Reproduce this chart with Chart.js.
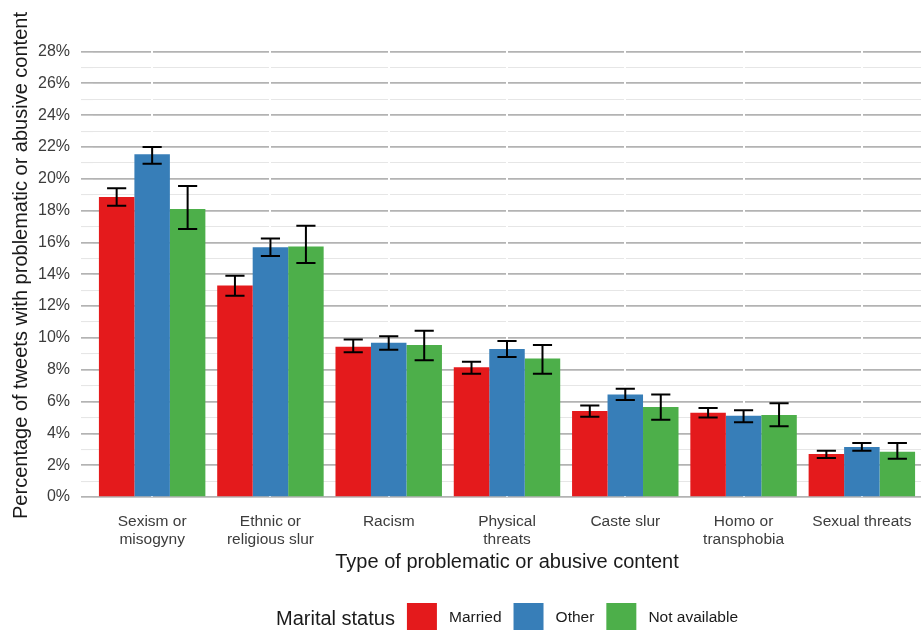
<!DOCTYPE html>
<html>
<head>
<meta charset="utf-8">
<script src="https://cdn.jsdelivr.net/npm/chart.js@4.4.1/dist/chart.umd.min.js"></script>
<style>
  html, body { margin: 0; padding: 0; background: #fff; overflow: hidden; }
  #chart { display: block; }
</style>
</head>
<body>
<canvas id="chart" width="921" height="643" style="width:921px;height:643px"></canvas>
<script>
// categorias (eixo x)
const categories = [
    ['Sexism or', 'misogyny'],
    ['Ethnic or', 'religious slur'],
    'Racism',
    ['Physical', 'threats'],
    'Caste slur',
    ['Homo or', 'transphobia'],
    'Sexual threats'
];

// percentuais
const married = [18.85, 13.3, 9.45, 8.15, 5.4, 5.3, 2.7];
const marriedLow = [18.3, 12.65, 9.1, 7.75, 5.05, 5.0, 2.45];
const marriedHigh = [19.4, 13.9, 9.9, 8.5, 5.75, 5.6, 2.9];

const other = [21.55, 15.7, 9.7, 9.3, 6.45, 5.1, 3.15];
const otherLow = [20.95, 15.15, 9.25, 8.8, 6.1, 4.7, 2.9];
const otherHigh = [22.0, 16.25, 10.1, 9.8, 6.8, 5.45, 3.4];

const notAvailable = [18.1, 15.75, 9.55, 8.7, 5.65, 5.15, 2.85];
const notAvailableLow = [16.85, 14.7, 8.6, 7.75, 4.85, 4.45, 2.4];
const notAvailableHigh = [19.55, 17.05, 10.45, 9.55, 6.45, 5.9, 3.4];

const FONT = "'Liberation Sans', Arial, sans-serif";

// barras de erro desenhadas a partir das escalas do próprio Chart.js
const errorBars = {
    id: 'errorBars',
    afterDatasetsDraw(chart) {
        const ctx = chart.ctx;
        const y = chart.scales.y;
        ctx.save();
        ctx.strokeStyle = '#000';
        ctx.lineWidth = 2;
        chart.data.datasets.forEach((ds, i) => {
            const meta = chart.getDatasetMeta(i);
            meta.data.forEach((bar, j) => {
                const top = y.getPixelForValue(ds.high[j]);
                const bot = y.getPixelForValue(ds.low[j]);
                const half = bar.width * 0.27;
                ctx.beginPath();
                ctx.moveTo(bar.x, top); ctx.lineTo(bar.x, bot);
                ctx.moveTo(bar.x - half, top); ctx.lineTo(bar.x + half, top);
                ctx.moveTo(bar.x - half, bot); ctx.lineTo(bar.x + half, bot);
                ctx.stroke();
            });
        });
        ctx.restore();
    }
};

// título da legenda à esquerda dos itens (estilo ggplot)
const legendTitle = {
    id: 'legendTitle',
    text: 'Marital status',
    font: '20px ' + FONT,
    gap: 12,
    afterLayout(chart) {
        const lg = chart.legend;
        if (!lg || !lg.lineWidths) return;
        const pad = lg.options.labels.padding;
        const ctx = chart.ctx;
        ctx.save();
        ctx.font = this.font;
        const titleW = ctx.measureText(this.text).width;
        ctx.restore();
        const itemsW = lg.lineWidths[0] - pad;
        const center = (chart.chartArea.left + chart.chartArea.right) / 2;
        const wanted = center - (titleW + this.gap + itemsW) / 2 + titleW + this.gap;
        const rowLeft = (lg.left + pad + lg.right - lg.lineWidths[0]) / 2;
        const dx = wanted - rowLeft;
        lg.left += dx;
        lg.right += dx;
        this._x = wanted - this.gap;
        this._y = lg.top + pad + lg.options.labels.boxHeight / 2 + 1;
    },
    afterDraw(chart) {
        if (this._x === undefined) return;
        const ctx = chart.ctx;
        ctx.save();
        ctx.font = this.font;
        ctx.fillStyle = '#1a1a1a';
        ctx.textAlign = 'right';
        ctx.textBaseline = 'middle';
        ctx.fillText(this.text, this._x, this._y);
        ctx.restore();
    }
};

new Chart(document.getElementById('chart'), {
    type: 'bar',
    data: {
        labels: categories,
        datasets: [
            { label: 'Married', data: married, low: marriedLow, high: marriedHigh, backgroundColor: '#E41A1C' },
            { label: 'Other', data: other, low: otherLow, high: otherHigh, backgroundColor: '#377EB8' },
            { label: 'Not available', data: notAvailable, low: notAvailableLow, high: notAvailableHigh, backgroundColor: '#4DAF4A' }
        ]
    },
    options: {
        responsive: false,
        animation: false,
        devicePixelRatio: 1,
        layout: { padding: { top: 34, right: 0, bottom: 0, left: 0 } },
        datasets: {
            bar: { categoryPercentage: 0.9, barPercentage: 1.0, borderWidth: 0 }
        },
        scales: {
            x: {
                offset: true,
                border: { display: false },
                grid: { offset: false, color: '#ffffff', lineWidth: 2, drawTicks: false, z: 0 },
                ticks: {
                    autoSkip: false, maxRotation: 0, padding: 15,
                    color: '#3c3c3c', font: { family: FONT, size: 15.5 }
                },
                title: {
                    display: true, text: 'Type of problematic or abusive content',
                    color: '#1a1a1a', font: { family: FONT, size: 20 },
                    padding: { top: 0, bottom: 17 }
                },
                afterFit: (scale) => {
                    scale.height = 94;
                    scale.paddingLeft = 0;
                    scale.paddingRight = 0;
                }
            },
            y: {
                min: 0,
                max: 29.1,
                border: { display: false },
                grid: {
                    z: -1,
                    tickLength: 12,
                    color: (c) => {
                        const v = c.tick.value;
                        if (!Number.isInteger(v)) return 'rgba(0,0,0,0)';
                        return v % 2 === 0 ? '#b3b3b3' : '#e6e6e6';
                    },
                    lineWidth: (c) => (c.tick.value % 2 === 0 ? 1.7 : 1.1)
                },
                ticks: {
                    stepSize: 1, autoSkip: false, padding: 11,
                    color: '#3c3c3c', font: { family: FONT, size: 16 },
                    callback: (v) => (Number.isInteger(v) && v % 2 === 0 ? v + '%' : '')
                },
                title: {
                    display: true, text: 'Percentage of tweets with problematic or abusive content',
                    color: '#1a1a1a', font: { family: FONT, size: 20 },
                    padding: { top: 9, bottom: 0 }
                },
                afterFit: (scale) => { scale.width = 93; }
            }
        },
        plugins: {
            tooltip: { enabled: false },
            legend: {
                position: 'bottom',
                labels: {
                    boxWidth: 30, boxHeight: 30, padding: 12,
                    color: '#1a1a1a', font: { family: FONT, size: 15.5 },
                    generateLabels: (chart) => Chart.defaults.plugins.legend.labels
                        .generateLabels(chart)
                        .map(l => Object.assign(l, { text: ' ' + l.text, lineWidth: 0 }))
                }
            }
        }
    },
    plugins: [errorBars, legendTitle]
});
</script>
</body>
</html>
